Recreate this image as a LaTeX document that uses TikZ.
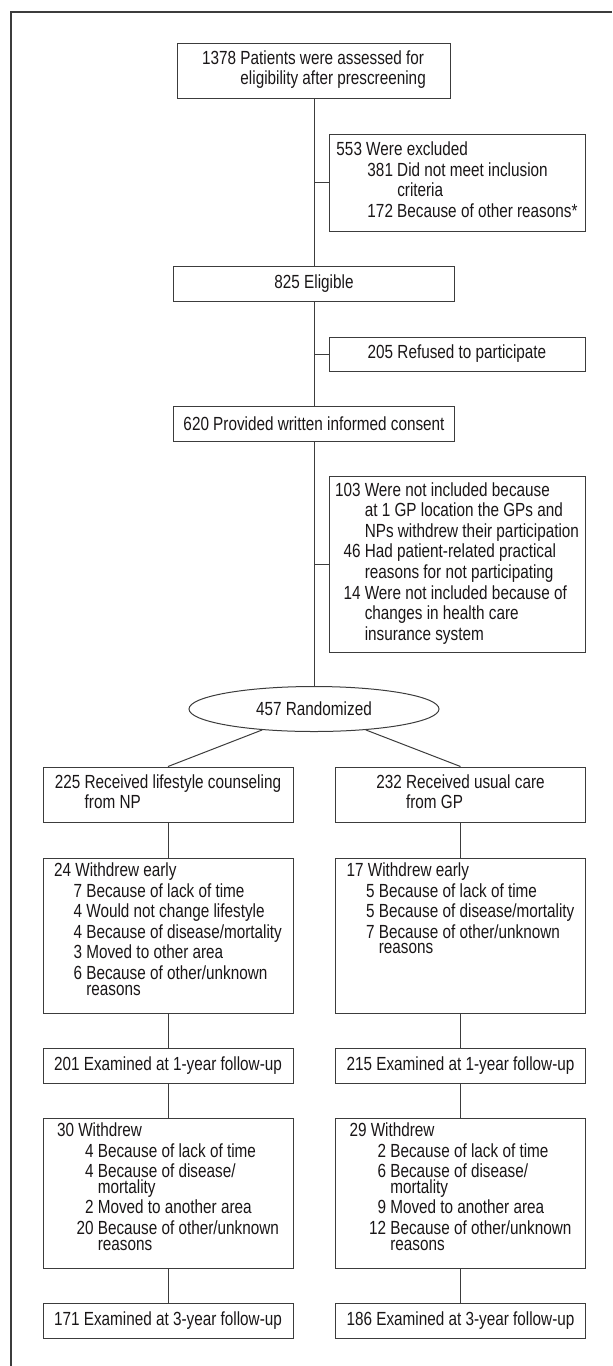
\documentclass[tikz,border=0pt]{standalone}
\usepackage{fontspec}
\setmainfont{Liberation Sans}[FakeStretch=0.805]
\usetikzlibrary{positioning,shapes.geometric}
\definecolor{ink}{RGB}{25,22,23}
\definecolor{rule}{RGB}{60,60,60}
\tikzstyle{box} = [draw=rule,line width=.5pt,rectangle,inner sep=0pt,text=ink,align=left,minimum height=17.5pt]
\tikzstyle{trunk} = [box,minimum width=140.5pt]
\tikzstyle{side} = [box,minimum width=128pt]
\tikzstyle{arm} = [box,minimum width=125pt]
\tikzstyle{edge} = [draw=rule,line width=.5pt]
\newcommand\lst[2][0pt]{\begin{tabular}{@{\hspace{#1}}r@{ }l@{}}#2\end{tabular}}
\newcommand\hd[1]{\multicolumn{2}{@{}l@{}}{#1}}
\newcommand\wdr[2]{\begin{minipage}[t][#1][t]{125pt}\vspace{2pt}\centering\lst[9.75pt]{#2}\end{minipage}}

\begin{document}
\begin{tikzpicture}[x=1pt,y=1pt,node distance=70pt,on grid,font=\fontsize{9.5}{10.3}\selectfont]
   \useasboundingbox (0,0) rectangle (306,-683);
   \draw[rule,line width=.7pt] (306,-6) -- (5.5,-6) -- (5.5,-683);

   \node[box,minimum width=136.5pt,minimum height=27.5pt] (screen) at (157,-35.25)
      {\lst{1378 & Patients were assessed for\\ & eligibility after prescreening}};
   \node[trunk] (elig) [below=106.75pt of screen] {825 Eligible};
   \node[side,minimum height=48.5pt] (excl) [below right=56pt and 71.5pt of screen]
      {\lst[15.5pt]{\hd{553 Were excluded}\\ 381 & Did not meet inclusion\\ & criteria\\ 172 & Because of other reasons*}};
   \node[side,minimum height=17pt] (refused) [below right=35pt and 71.5pt of elig] {205 Refused to participate};
   \node[trunk] (consent) [below=of elig] {620 Provided written informed consent};
   \node[side,minimum height=88pt] (notinc) [below right=70pt and 71.5pt of consent]
      {\lst{103 & Were not included because\\ & at 1 GP location the GPs and\\ & NPs withdrew their participation\\
       46 & Had patient-related practical\\ & reasons for not participating\\
       14 & Were not included because of\\ & changes in health care\\ & insurance system}};
   \node[draw=rule,line width=.5pt,ellipse,minimum width=125pt,minimum height=22.5pt,inner sep=0pt,text=ink]
      (rand) [below=142.5pt of consent] {457 Randomized};

   % lifestyle counseling arm
   \node[arm,minimum height=27.5pt] (nplife) [below left=42.75pt and 73pt of rand]
      {\lst{225 & Received lifestyle counseling\\ & from NP}};
   \node[arm] (npquit) [below=70.5pt of nplife]
      {\wdr{77.5pt}{\hd{24 Withdrew early}\\ 7 & Because of lack of time\\ 4 & Would not change lifestyle\\
       4 & Because of disease/mortality\\ 3 & Moved to other area\\ 6 & Because of other/unknown\\[-2.5pt] & reasons}};
   \node[arm] (npyear1) [below=65pt of npquit] {201 Examined at 1-year follow-up};
   \node[arm] (npdrop) [below=63.75pt of npyear1]
      {\wdr{75pt}{\hd{30 Withdrew}\\ 4 & Because of lack of time\\ 4 & Because of disease/\\[-2.5pt] & mortality\\
       2 & Moved to another area\\ 20 & Because of other/unknown\\[-2.5pt] & reasons}};
   \node[arm] (npyear3) [below=64pt of npdrop] {171 Examined at 3-year follow-up};

   % usual care arm
   \node[arm,minimum height=27.5pt] (gpcare) [below right=42.75pt and 73.25pt of rand]
      {\lst{232 & Received usual care\\ & from GP}};
   \node[arm] (gpquit) [below=70.5pt of gpcare]
      {\wdr{77.5pt}{\hd{17 Withdrew early}\\ 5 & Because of lack of time\\ 5 & Because of disease/mortality\\
       7 & Because of other/unknown\\[-2.5pt] & reasons}};
   \node[arm] (gpyear1) [below=65pt of gpquit] {215 Examined at 1-year follow-up};
   \node[arm] (gpdrop) [below=63.75pt of gpyear1]
      {\wdr{75pt}{\hd{29 Withdrew}\\ 2 & Because of lack of time\\ 6 & Because of disease/\\[-2.5pt] & mortality\\
       9 & Moved to another area\\ 12 & Because of other/unknown\\[-2.5pt] & reasons}};
   \node[arm] (gpyear3) [below=64pt of gpdrop] {186 Examined at 3-year follow-up};

   \path[edge] (screen) -- (elig) -- (consent) -- (rand);
   \path[edge] (excl.west) -- (excl.west -| screen.south);
   \path[edge] (refused.west) -- (refused.west -| screen.south);
   \path[edge] (notinc.west) -- (notinc.west -| screen.south);
   \path[edge] (rand.202) -- (nplife.north);
   \path[edge] (rand.338) -- (gpcare.north);
   \path[edge] (nplife) -- (npquit) -- (npyear1) -- (npdrop) -- (npyear3);
   \path[edge] (gpcare) -- (gpquit) -- (gpyear1) -- (gpdrop) -- (gpyear3);
\end{tikzpicture}
\end{document}
